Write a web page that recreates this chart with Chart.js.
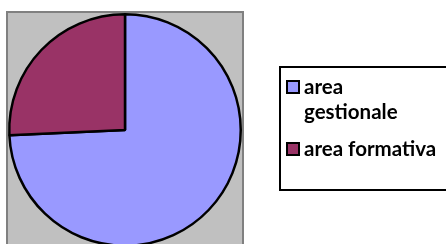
<!DOCTYPE html>
<html>
<head>
<meta charset="utf-8">
<script src="https://cdn.jsdelivr.net/npm/chart.js@4/dist/chart.umd.min.js"></script>
<style>
  html, body { margin: 0; padding: 0; background: #fff; overflow: hidden; }
  #wrap { width: 446px; height: 244px; overflow: hidden; position: relative; }
  #mycanvas { position: absolute; left: 0; top: 0; }
</style>
</head>
<body>
<div id="wrap"><canvas id="mycanvas" width="446" height="270"></canvas></div>
<script>
// data
var labels = ['area gestionale', 'area formativa'];
var legendLines = [['area', 'gestionale'], ['area formativa']];
var values = [26, 9];
var colors = ['#9999FF', '#993366'];

// gray plot background behind the pie
var plotBg = {
    id: 'plotBg',
    beforeDraw: function(chart) {
        var ctx = chart.ctx, a = chart.chartArea;
        ctx.save();
        ctx.fillStyle = '#C0C0C0';
        ctx.fillRect(a.left - 1, a.top - 1, a.right - a.left + 2, a.bottom - a.top + 2);
        ctx.strokeStyle = '#808080';
        ctx.lineWidth = 2;
        ctx.strokeRect(a.left - 1, a.top - 1, a.right - a.left + 2, a.bottom - a.top + 2);
        ctx.restore();
    }
};

// boxed legend on the right
var boxLegend = {
    id: 'boxLegend',
    afterDraw: function(chart) {
        var ctx = chart.ctx;
        ctx.save();
        ctx.strokeStyle = '#000';
        ctx.lineWidth = 2;
        ctx.strokeRect(280, 67, 200, 123);
        ctx.font = 'bold 20.5px Lato';
        ctx.textBaseline = 'alphabetic';
        var y = 94;
        for (var i = 0; i < legendLines.length; i++) {
            ctx.fillStyle = colors[i];
            ctx.fillRect(287, y - 13, 12, 12);
            ctx.strokeStyle = '#000';
            ctx.lineWidth = 2;
            ctx.strokeRect(287, y - 13, 12, 12);
            ctx.fillStyle = '#000';
            for (var j = 0; j < legendLines[i].length; j++) {
                ctx.fillText(legendLines[i][j], 304, y);
                y += 25;
            }
            y += 12;
        }
        ctx.restore();
    }
};

var ctx = document.getElementById('mycanvas');
var pieChart = new Chart(ctx, {
    type: 'pie',
    data: {
        labels: labels,
        datasets: [{
            data: values,
            backgroundColor: colors,
            borderColor: '#000',
            borderWidth: 2.5
        }]
    },
    options: {
        responsive: false,
        animation: false,
        devicePixelRatio: 1,
        layout: { padding: { left: 8, right: 204, top: 13, bottom: 23 } },
        plugins: {
            legend: { display: false },
            tooltip: { enabled: false }
        }
    },
    plugins: [plotBg, boxLegend]
});
</script>
</body>
</html>
